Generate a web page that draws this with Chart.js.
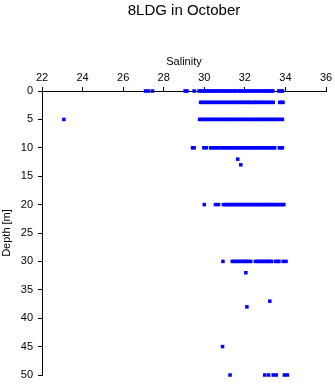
<!DOCTYPE html>
<html>
<head>
<meta charset="utf-8">
<script src="https://cdn.jsdelivr.net/npm/chart.js@4/dist/chart.umd.min.js"></script>
<style>
html,body{margin:0;padding:0;background:#fff;}
#c{display:block;}
</style>
</head>
<body>
<canvas id="c" width="335" height="384"></canvas>
<script>
// ---- data ----
const chartTitle = "8LDG in October";
const xTitle = "Salinity";
const yTitle = "Depth [m]";
const xTicks = [22, 24, 26, 28, 30, 32, 34, 36];
const yTicks = [0, 5, 10, 15, 20, 25, 30, 35, 40, 45, 50];

const depths = [0, 2, 5, 10, 12, 13, 20, 30, 32, 37, 38, 45, 50];
const sal_d0 = [27.1, 27.25, 27.45, 29.05, 29.15, 29.5, 29.74, 29.82, 29.93, 30.02, 30.12, 30.22, 30.33, 30.41, 30.52, 30.61, 30.72, 30.8, 30.91, 31.02, 31.1, 31.21, 31.3, 31.42, 31.5, 31.6, 31.71, 31.8, 31.92, 32.0, 32.1, 32.21, 32.3, 32.41, 32.5, 32.62, 32.7, 32.8, 32.91, 33.0, 33.12, 33.2, 33.3, 33.38, 33.67, 33.78, 33.85];
const sal_d2 = [29.82, 29.9, 30.0, 30.11, 30.2, 30.32, 30.4, 30.5, 30.62, 30.7, 30.81, 30.9, 31.01, 31.1, 31.2, 31.31, 31.4, 31.5, 31.56, 31.68, 31.78, 31.82, 31.94, 32.02, 32.12, 32.2, 32.24, 32.36, 32.45, 32.54, 32.62, 32.75, 32.82, 32.92, 33.0, 33.1, 33.2, 33.3, 33.4, 33.72, 33.8, 33.88];
const sal_d5 = [23.08, 29.77, 29.85, 29.96, 30.05, 30.15, 30.25, 30.34, 30.45, 30.55, 30.64, 30.75, 30.84, 30.95, 31.05, 31.14, 31.25, 31.35, 31.44, 31.55, 31.65, 31.74, 31.85, 31.95, 32.04, 32.14, 32.24, 32.36, 32.44, 32.55, 32.64, 32.75, 32.85, 32.94, 33.05, 33.15, 33.24, 33.35, 33.45, 33.55, 33.66, 33.75, 33.85];
const sal_d10 = [29.42, 29.5, 29.98, 30.1, 30.31, 30.4, 30.5, 30.61, 30.7, 30.8, 30.9, 31.01, 31.1, 31.2, 31.31, 31.4, 31.5, 31.6, 31.7, 31.81, 31.9, 32.0, 32.1, 32.2, 32.3, 32.41, 32.5, 32.6, 32.7, 32.8, 32.9, 33.0, 33.1, 33.2, 33.3, 33.38, 33.47, 33.7, 33.78, 33.85];
const sal_d12 = [31.65];
const sal_d13 = [31.8];
const sal_d20 = [30.0, 30.55, 30.7, 30.94, 31.04, 31.14, 31.24, 31.34, 31.44, 31.54, 31.64, 31.74, 31.84, 31.94, 32.04, 32.14, 32.24, 32.34, 32.44, 32.54, 32.64, 32.74, 32.84, 32.94, 33.04, 33.14, 33.24, 33.34, 33.44, 33.54, 33.64, 33.74, 33.84, 33.92];
const sal_d30 = [30.92, 31.38, 31.48, 31.58, 31.68, 31.78, 31.88, 31.98, 32.08, 32.18, 32.29, 32.52, 32.62, 32.72, 32.82, 32.92, 33.02, 33.12, 33.22, 33.3, 33.5, 33.62, 33.68, 33.89, 34.03];
const sal_d32 = [32.05];
const sal_d37 = [33.23];
const sal_d38 = [32.1];
const sal_d45 = [30.9];
const sal_d50 = [31.27, 32.98, 33.17, 33.4, 33.55, 33.95, 34.1];
const salinityByDepth = [sal_d0, sal_d2, sal_d5, sal_d10, sal_d12, sal_d13, sal_d20, sal_d30, sal_d32, sal_d37, sal_d38, sal_d45, sal_d50];

// ---- build points ----
const points = [];
depths.forEach((d, i) => {
  salinityByDepth[i].forEach(s => points.push({x: s, y: d}));
});

Chart.defaults.color = '#000';
Chart.defaults.font.family = '"Liberation Sans", Arial, sans-serif';

const TITLE_FONT = 15;
const TITLE_PAD_TOP = 2;
const TITLE_H = TITLE_FONT * 1.2 + TITLE_PAD_TOP;
new Chart(document.getElementById('c'), {
  type: 'scatter',
  data: {
    datasets: [{
      data: points,
      backgroundColor: '#0000ff',
      borderColor: '#0000ff',
      borderWidth: 0,
      pointStyle: 'rect',
      pointRadius: 2.5,
      pointHoverRadius: 2.5,
      clip: false
    }]
  },
  options: {
    responsive: false,
    animation: false,
    events: [],
    layout: {padding: {left: 0, right: 9, top: 0, bottom: 9}},
    plugins: {
      legend: {display: false},
      tooltip: {enabled: false},
      title: {
        display: true,
        text: chartTitle,
        fullSize: false,
        font: {size: TITLE_FONT, weight: 'normal'},
        color: '#000',
        padding: {top: TITLE_PAD_TOP, bottom: 0}
      }
    },
    scales: {
      x: {
        type: 'linear',
        position: 'top',
        min: xTicks[0],
        max: xTicks[xTicks.length - 1],
        afterBuildTicks: s => { s.ticks = xTicks.map(v => ({value: v})); },
        ticks: {font: {size: 11}, padding: 2, maxRotation: 0},
        grid: {display: true, drawOnChartArea: false, drawTicks: true, tickLength: 4, color: '#000', lineWidth: 1},
        border: {display: true, color: '#000', width: 1},
        title: {display: true, text: xTitle, font: {size: 11}, padding: {top: 35, bottom: 0}},
        afterFit: s => { s.height = 91 - TITLE_H; s.paddingLeft = 0; s.paddingRight = 0; }
      },
      y: {
        type: 'linear',
        position: 'left',
        reverse: true,
        min: yTicks[0],
        max: yTicks[yTicks.length - 1],
        afterBuildTicks: s => { s.ticks = yTicks.map(v => ({value: v})); },
        ticks: {font: {size: 11}, padding: 5},
        grid: {display: true, drawOnChartArea: false, drawTicks: true, tickLength: 4, color: '#000', lineWidth: 1},
        border: {display: true, color: '#000', width: 1},
        title: {display: true, text: yTitle, font: {size: 11}, padding: {top: 0, bottom: 0}},
        afterFit: s => { s.width = 42; s.paddingTop = 0; s.paddingBottom = 0; }
      }
    }
  }
});
</script>
</body>
</html>
